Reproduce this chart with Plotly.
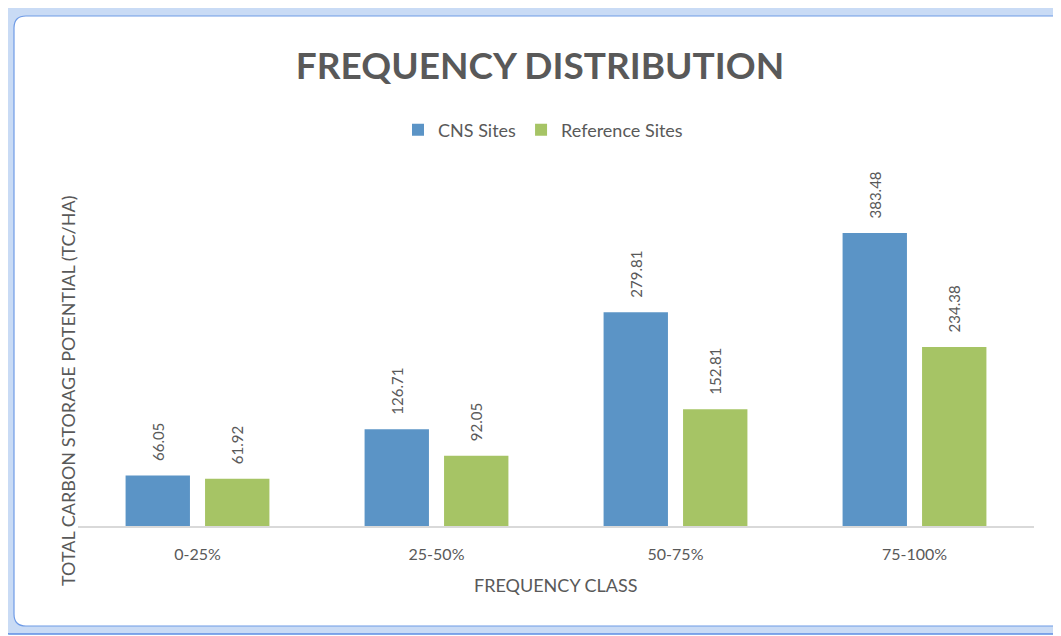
import plotly.graph_objects as go

categories = ["0-25%", "25-50%", "50-75%", "75-100%"]
cns_sites = [66.05, 126.71, 279.81, 383.48]
reference_sites = [61.92, 92.05, 152.81, 234.38]
series_names = ["CNS Sites", "Reference Sites"]

# page offset of the figure (browser body margin)
O = 8
W, H = 1061 - O, 636 - O
# plot area in reference page pixels
PX0, PX1, PY0, PY1 = 78, 1034, 160, 526
L, R, T, B = PX0 - O, (W + O) - PX1, PY0 - O, (H + O) - PY1
PW, PH = W - L - R, H - T - B

def px(x):
    return (x - PX0) / PW

def py(y):
    return (PY1 - y) / PH

FONT = "Lato, 'Open Sans', sans-serif"
GRAY = "#595959"
PAD = "\u00a0" * 3

fig = go.Figure()
fig.add_trace(go.Bar(
    x=categories, y=cns_sites, name=series_names[0],
    marker=dict(color="#5B94C6", line=dict(width=0)),
    text=[PAD + f"{v:.2f}" for v in cns_sites],
    textposition="outside", textangle=-90, constraintext="none",
    cliponaxis=False,
    textfont=dict(family=FONT, size=15, color=GRAY),
))
fig.add_trace(go.Bar(
    x=categories, y=reference_sites, name=series_names[1],
    marker=dict(color="#A6C465", line=dict(width=0)),
    text=[PAD + f"{v:.2f}" for v in reference_sites],
    textposition="outside", textangle=-90, constraintext="none",
    cliponaxis=False,
    textfont=dict(family=FONT, size=15, color=GRAY),
))

def rounded(x0, y0, x1, y1, r):
    pts = [
        f"M {px(x0 + r)} {py(y0)}",
        f"L {px(x1 - r)} {py(y0)}",
        f"Q {px(x1)} {py(y0)} {px(x1)} {py(y0 + r)}",
        f"L {px(x1)} {py(y1 - r)}",
        f"Q {px(x1)} {py(y1)} {px(x1 - r)} {py(y1)}",
        f"L {px(x0 + r)} {py(y1)}",
        f"Q {px(x0)} {py(y1)} {px(x0)} {py(y1 - r)}",
        f"L {px(x0)} {py(y0 + r)}",
        f"Q {px(x0)} {py(y0)} {px(x0 + r)} {py(y0)}",
        "Z",
    ]
    return " ".join(pts)

shapes = [
    dict(type="path", xref="paper", yref="paper", layer="below",
         path=rounded(4, 6, 1075, 634, 6),
         fillcolor="#C9DBF5", line=dict(color="#5E8EE3", width=1.5)),
    dict(type="path", xref="paper", yref="paper", layer="below",
         path=rounded(14, 16, 1072, 626, 12),
         fillcolor="#FFFFFF", line=dict(color="#6F9BE6", width=1.2)),
]

annotations = [
    dict(text="FREQUENCY CLASS", xref="paper", yref="paper",
         x=px(556), y=py(585), xanchor="center", yanchor="middle",
         showarrow=False, font=dict(family=FONT, size=18, color=GRAY)),
    dict(text="TOTAL CARBON STORAGE POTENTIAL (TC/HA)", xref="paper", yref="paper",
         x=px(68), y=py(391), xanchor="center", yanchor="middle", textangle=-90,
         showarrow=False, font=dict(family=FONT, size=18, color=GRAY)),
]

fig.update_layout(
    width=W, height=H,
    margin=dict(l=L, r=R, t=T, b=B, pad=0),
    paper_bgcolor="#FFFFFF", plot_bgcolor="rgba(0,0,0,0)",
    barmode="group", bargap=0.335, bargroupgap=0.19,
    title=dict(text="<b>FREQUENCY DISTRIBUTION</b>", x=(540 - O) / W, y=1 - (66 - O) / H,
               xanchor="center", yanchor="middle",
               font=dict(family=FONT, size=37, color=GRAY)),
    legend=dict(orientation="h", x=px(543), y=py(130), xanchor="center", yanchor="middle",
                font=dict(family=FONT, size=18, color=GRAY), bgcolor="rgba(0,0,0,0)",
                itemwidth=30, traceorder="normal"),
    xaxis=dict(showgrid=False, showline=True, linecolor="#D9D9D9", linewidth=1.5,
               ticks="", ticklabelstandoff=13,
               tickfont=dict(family=FONT, size=16, color=GRAY)),
    yaxis=dict(range=[0, PH / 0.764], showgrid=False, showline=False, zeroline=False,
               showticklabels=False, ticks=""),
    shapes=shapes, annotations=annotations,
    showlegend=True,
)

fig.write_html("out.html")
